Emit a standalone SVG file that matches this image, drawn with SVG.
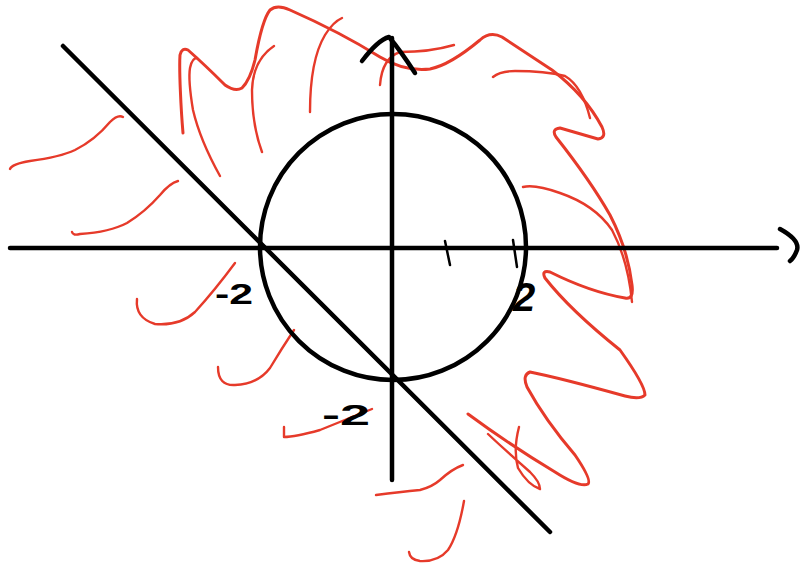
<svg xmlns="http://www.w3.org/2000/svg" width="804" height="564" viewBox="0 0 804 564">
<style>
.k{fill:none;stroke:#000;stroke-width:4.5;stroke-linecap:round;stroke-linejoin:round}
.t{fill:none;stroke:#000;stroke-width:2.5;stroke-linecap:round}
.r{fill:none;stroke:#e63a2a;stroke-width:2.4;stroke-linecap:round;stroke-linejoin:round}
.rm{fill:none;stroke:#e63a2a;stroke-width:3;stroke-linecap:round;stroke-linejoin:round}
.lb{font-family:"Liberation Sans",Arial,sans-serif;font-weight:bold;fill:#000}
</style>
<rect width="804" height="564" fill="#fff"/>
<g id="red-strokes">
<path class="rm" d="M183,133 C181,110 179,70 180,55 Q182,47 188,50 Q205,65 225,85 Q235,92 242,88 Q250,80 255,60 Q262,20 270,10 Q277,4 290,10 Q340,32 380,57 Q405,72 430,69 Q450,65 480,40 Q490,31 502,37 L552,70 Q585,95 602,127 Q607,138 598,139 L560,128 Q551,129 556,137 Q590,180 610,215 Q628,250 632,285 Q634,300 625,298 Q590,292 550,272 Q541,270 545,278 Q570,310 620,350 Q645,385 645,395 Q640,400 625,396 Q560,378 530,372 Q522,375 527,387 Q545,420 575,455 Q592,480 588,484 Q580,488 555,472 Q510,445 468,414"/>
<path class="r" d="M519,427 Q513,450 518,468 Q528,485 540,489 Q540,482 530,472 Q505,450 488,434"/>
<path class="r" d="M220,176 Q200,140 193,110 Q188,80 190,68 Q192,58 197,58"/>
<path class="r" d="M262,152 Q252,125 252,90 Q253,60 274,46"/>
<path class="r" d="M310,112 Q310,60 325,35 Q333,22 342,18"/>
<path class="r" d="M380,85 Q382,58 400,52 Q430,52 454,45"/>
<path class="r" d="M493,77 Q500,71 515,71 Q545,71 565,76 Q582,86 590,118"/>
<path class="r" d="M523,187 Q535,184 560,193 Q595,205 612,230 Q628,260 632,302"/>
<path class="r" d="M10,169 Q12,164 30,161 Q60,157 75,150 Q95,140 110,122 Q118,114 123,117"/>
<path class="r" d="M72,232 Q73,236 80,234 Q110,232 127,223 Q145,212 160,195 Q170,183 178,181"/>
<path class="r" d="M137,299 Q135,318 155,324 Q180,326 195,312 Q215,290 235,263"/>
<path class="r" d="M218,367 Q218,386 235,385 Q258,384 270,368 Q282,348 294,330"/>
<path class="r" d="M284,427 L284,437 Q295,437 320,430 Q345,420 372,409"/>
<path class="r" d="M376,495 Q400,492 420,490 Q432,487 440,480 Q452,469 463,465"/>
<path class="r" d="M464,501 Q458,535 448,550 Q438,562 420,561 Q410,560 409,552"/>
</g>
<g id="axes">
<path class="k" d="M10,248 L777,248"/>
<path class="k" d="M780,229 Q800,240 797,250 Q794,258 790,261"/>
<path class="k" d="M392,480 L392,38"/>
<path class="k" d="M362,61 Q378,40 389,37 Q400,50 415,73"/>
<path class="t" d="M445,241 L450,265"/>
<path class="t" d="M513,240 L517,267"/>
</g>
<g id="circle"><circle class="k" cx="393" cy="247" r="133"/></g>
<g id="diagonal"><path class="k" d="M63,46 L550,532"/></g>
<g id="labels">
<text class="lb" x="215" y="304" font-size="30" textLength="38" lengthAdjust="spacingAndGlyphs">-2</text>
<text class="lb" x="322" y="425" font-size="30" textLength="48" lengthAdjust="spacingAndGlyphs">-2</text>
<text class="lb" x="513" y="311" font-size="40" font-style="italic">2</text>
</g>
</svg>
